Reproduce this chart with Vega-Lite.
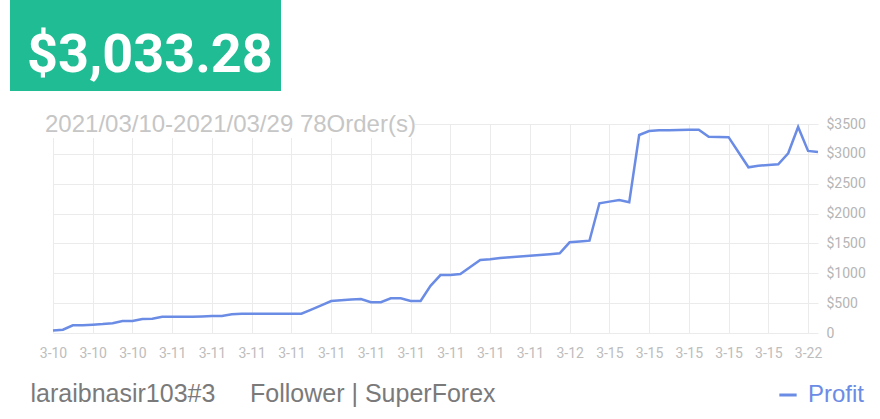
{
  "$schema": "https://vega.github.io/schema/vega-lite/v6.json",
  "background": "white",
  "width": 765,
  "height": 209,
  "autosize": {"type": "none"},
  "padding": {"left": 53, "top": 124, "right": 62, "bottom": 86},
  "config": {"view": {"stroke": null}},
  "data": {"values": [
    {"i":0,"profit":40},{"i":1,"profit":55},{"i":2,"profit":128},{"i":3,"profit":130},{"i":4,"profit":140},
    {"i":5,"profit":150},{"i":6,"profit":165},{"i":7,"profit":200},{"i":8,"profit":202},{"i":9,"profit":235},
    {"i":10,"profit":237},{"i":11,"profit":272},{"i":12,"profit":273},{"i":13,"profit":272},{"i":14,"profit":274},
    {"i":15,"profit":278},{"i":16,"profit":283},{"i":17,"profit":286},{"i":18,"profit":314},{"i":19,"profit":321},
    {"i":20,"profit":322},{"i":21,"profit":322},{"i":22,"profit":323},{"i":23,"profit":323},{"i":24,"profit":323},
    {"i":25,"profit":324},{"i":26,"profit":393},{"i":27,"profit":463},{"i":28,"profit":536},{"i":29,"profit":548},
    {"i":30,"profit":560},{"i":31,"profit":570},{"i":32,"profit":514},{"i":33,"profit":516},{"i":34,"profit":580},
    {"i":35,"profit":581},{"i":36,"profit":536},{"i":37,"profit":536},{"i":38,"profit":790},{"i":39,"profit":970},
    {"i":40,"profit":972},{"i":41,"profit":988},{"i":42,"profit":1105},{"i":43,"profit":1223},{"i":44,"profit":1234},
    {"i":45,"profit":1256},{"i":46,"profit":1268},{"i":47,"profit":1280},{"i":48,"profit":1293},{"i":49,"profit":1306},
    {"i":50,"profit":1320},{"i":51,"profit":1334},{"i":52,"profit":1519},{"i":53,"profit":1533},{"i":54,"profit":1547},
    {"i":55,"profit":2172},{"i":56,"profit":2200},{"i":57,"profit":2228},{"i":58,"profit":2189},{"i":59,"profit":3316},
    {"i":60,"profit":3383},{"i":61,"profit":3395},{"i":62,"profit":3397},{"i":63,"profit":3399},{"i":64,"profit":3402},
    {"i":65,"profit":3405},{"i":66,"profit":3288},{"i":67,"profit":3283},{"i":68,"profit":3280},{"i":69,"profit":3027},
    {"i":70,"profit":2775},{"i":71,"profit":2802},{"i":72,"profit":2814},{"i":73,"profit":2825},{"i":74,"profit":3010},
    {"i":75,"profit":3450},{"i":76,"profit":3050},{"i":77,"profit":3033}
  ]},
  "layer": [
    {
      "mark": {"type": "line", "strokeWidth": 2.5, "interpolate": "linear"},
      "encoding": {
        "x": {
          "field": "i", "type": "quantitative",
          "scale": {"domain": [0, 77], "nice": false, "zero": false},
          "title": "laraibnasir103#3\u00a0\u00a0\u00a0\u00a0\u00a0Follower | SuperForex",
          "axis": {
            "values": [0,4,8,12,16,20,24,28,32,36,40,44,48,52,56,60,64,68,72,76],
            "labelExpr": "['3-10','3-10','3-10','3-11','3-11','3-11','3-11','3-11','3-11','3-11','3-11','3-11','3-11','3-12','3-15','3-15','3-15','3-15','3-15','3-22'][datum.value / 4]",
            "grid": true, "gridColor": "#ebebeb", "gridWidth": 1,
            "domain": false, "ticks": false, "tickSize": 0,
            "labelPadding": 13, "labelFlush": false, "labelOverlap": false,
            "labelFont": "Roboto", "labelFontSize": 14, "labelColor": "#bdbdbd",
            "titleX": -23, "titleY": 60, "titleAlign": "left", "titleBaseline": "middle", "titleAngle": 0,
            "titleFont": "Liberation Sans", "titleFontSize": 25, "titleFontWeight": "normal", "titleColor": "#7a7a7a", "titleLimit": 800
          }
        },
        "y": {
          "field": "profit", "type": "quantitative",
          "scale": {"domain": [0, 3500], "nice": false},
          "title": null,
          "axis": {
            "orient": "right",
            "values": [0,500,1000,1500,2000,2500,3000,3500],
            "labelExpr": "datum.value == 0 ? '0' : '$' + datum.value",
            "labelOverlap": false,
            "grid": true, "gridColor": "#ebebeb", "gridWidth": 1,
            "domain": false, "ticks": false, "tickSize": 0, "labelPadding": 8,
            "labelFont": "Roboto", "labelFontSize": 14, "labelColor": "#b5b5b5"
          }
        },
        "color": {
          "datum": "Profit", "type": "nominal",
          "scale": {"range": ["#6b8ce5"]},
          "legend": {
            "orient": "none", "legendX": 723, "legendY": 259, "title": null, "padding": 0,
            "symbolType": "stroke", "symbolStrokeWidth": 3, "symbolSize": 300,
            "labelFont": "Liberation Sans", "labelFontSize": 24, "labelColor": "#6b8ce5", "labelOffset": 8
          }
        }
      }
    },
    {
      "mark": {"type": "rect", "color": "white", "clip": false},
      "encoding": {
        "x": {
          "datum": -2.3, "type": "quantitative",
          "title": "laraibnasir103#3\u00a0\u00a0\u00a0\u00a0\u00a0Follower | SuperForex",
          "axis": {
            "values": [0,4,8,12,16,20,24,28,32,36,40,44,48,52,56,60,64,68,72,76],
            "labelExpr": "['3-10','3-10','3-10','3-11','3-11','3-11','3-11','3-11','3-11','3-11','3-11','3-11','3-11','3-12','3-15','3-15','3-15','3-15','3-15','3-22'][datum.value / 4]",
            "grid": true, "gridColor": "#ebebeb", "gridWidth": 1,
            "domain": false, "ticks": false, "tickSize": 0,
            "labelPadding": 13, "labelFlush": false, "labelOverlap": false,
            "labelFont": "Roboto", "labelFontSize": 14, "labelColor": "#bdbdbd",
            "titleX": -23, "titleY": 60, "titleAlign": "left", "titleBaseline": "middle", "titleAngle": 0,
            "titleFont": "Liberation Sans", "titleFontSize": 25, "titleFontWeight": "normal", "titleColor": "#7a7a7a", "titleLimit": 800
          }
        },
        "x2": {"datum": 36.4},
        "y": {
          "datum": 3700, "type": "quantitative", "title": null,
          "axis": {
            "orient": "right",
            "values": [0,500,1000,1500,2000,2500,3000,3500],
            "labelExpr": "datum.value == 0 ? '0' : '$' + datum.value",
            "labelOverlap": false,
            "grid": true, "gridColor": "#ebebeb", "gridWidth": 1,
            "domain": false, "ticks": false, "tickSize": 0, "labelPadding": 8,
            "labelFont": "Roboto", "labelFontSize": 14, "labelColor": "#b5b5b5"
          }
        },
        "y2": {"datum": 3266}
      }
    },
    {
      "data": {"values": [{"label": "2021/03/10-2021/03/29 78Order(s)"}]},
      "mark": {"type": "text", "align": "left", "baseline": "middle", "dx": -8, "dy": 1, "font": "Liberation Sans", "fontSize": 24, "color": "#c6c6c6"},
      "encoding": {
        "x": {
          "datum": 0, "type": "quantitative",
          "title": "laraibnasir103#3\u00a0\u00a0\u00a0\u00a0\u00a0Follower | SuperForex",
          "axis": {
            "values": [0,4,8,12,16,20,24,28,32,36,40,44,48,52,56,60,64,68,72,76],
            "labelExpr": "['3-10','3-10','3-10','3-11','3-11','3-11','3-11','3-11','3-11','3-11','3-11','3-11','3-11','3-12','3-15','3-15','3-15','3-15','3-15','3-22'][datum.value / 4]",
            "grid": true, "gridColor": "#ebebeb", "gridWidth": 1,
            "domain": false, "ticks": false, "tickSize": 0,
            "labelPadding": 13, "labelFlush": false, "labelOverlap": false,
            "labelFont": "Roboto", "labelFontSize": 14, "labelColor": "#bdbdbd",
            "titleX": -23, "titleY": 60, "titleAlign": "left", "titleBaseline": "middle", "titleAngle": 0,
            "titleFont": "Liberation Sans", "titleFontSize": 25, "titleFontWeight": "normal", "titleColor": "#7a7a7a", "titleLimit": 800
          }
        },
        "y": {
          "datum": 3500, "type": "quantitative", "title": null,
          "axis": {
            "orient": "right",
            "values": [0,500,1000,1500,2000,2500,3000,3500],
            "labelExpr": "datum.value == 0 ? '0' : '$' + datum.value",
            "labelOverlap": false,
            "grid": true, "gridColor": "#ebebeb", "gridWidth": 1,
            "domain": false, "ticks": false, "tickSize": 0, "labelPadding": 8,
            "labelFont": "Roboto", "labelFontSize": 14, "labelColor": "#b5b5b5"
          }
        },
        "text": {"field": "label"},
        "opacity": {
          "datum": "$3,033.28", "type": "ordinal",
          "scale": {"range": [1, 1]},
          "legend": {
            "orient": "none", "legendX": -43, "legendY": -130, "title": null,
            "padding": 8, "fillColor": "#20bc94", "strokeColor": null, "cornerRadius": 0,
            "symbolSize": 1, "symbolStrokeWidth": 0,
            "labelOffset": -45, "labelBaseline": "top",
            "labelFont": "Roboto", "labelFontSize": 54, "labelFontWeight": "bold", "labelColor": "white", "labelLimit": 400,
            "encode": {"symbols": {"update": {"opacity": {"value": 0}, "fill": {"value": "transparent"}, "stroke": {"value": "transparent"}}}}
          }
        }
      }
    }
  ]
}
